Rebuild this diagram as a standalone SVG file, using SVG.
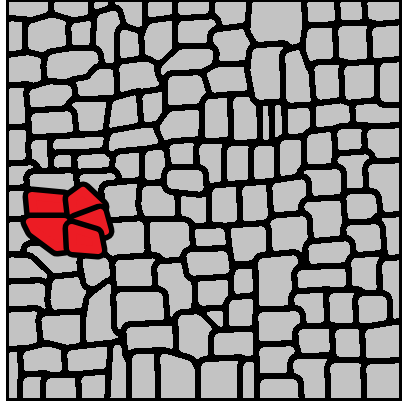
<svg xmlns="http://www.w3.org/2000/svg" width="402" height="405" viewBox="0 0 402 405">
<style>
.k{fill:#000;stroke:#000;stroke-width:19;stroke-linejoin:round}
.g{fill:#c3c3c3;stroke:#c3c3c3;stroke-width:8;stroke-linejoin:round}
.rr{fill:#ec1c24;stroke:#ec1c24;stroke-width:8;stroke-linejoin:round}
</style>
<defs>
<clipPath id="frame"><rect x="9" y="2" width="390" height="396"/></clipPath>
<filter id="smooth" x="0" y="0" width="1" height="1" color-interpolation-filters="sRGB">
<feGaussianBlur stdDeviation="1.5"/>
<feComponentTransfer>
<feFuncR type="discrete" tableValues="0 0 0 0 0 0 0 0 0 .765 .765 .765 .765 .765 .765 .765 .765 .765 .765 .765"/>
<feFuncG type="discrete" tableValues="0 0 0 0 0 0 0 0 0 .765 .765 .765 .765 .765 .765 .765 .765 .765 .765 .765"/>
<feFuncB type="discrete" tableValues="0 0 0 0 0 0 0 0 0 .765 .765 .765 .765 .765 .765 .765 .765 .765 .765 .765"/>
<feFuncA type="discrete" tableValues="0 1"/>
</feComponentTransfer>
</filter>
<filter id="smoothred" x="0" y="0" width="1" height="1" color-interpolation-filters="sRGB">
<feGaussianBlur stdDeviation="1.2"/>
<feComponentTransfer>
<feFuncA type="discrete" tableValues="0 1"/>
</feComponentTransfer>
</filter>
<polygon id="c1" points="11,3 52,3 52,14 46,18 27,21 11,19"/>
<polygon id="c2" points="58,3 93,3 93,17 72,21 58,15"/>
<polygon id="c3" points="98,3 113,3 112,9 98,13"/>
<polygon id="c4" points="118,3 147,3 147,22 137,31 122,20 117,10"/>
<polygon id="c5" points="152,3 177,3 177,17 152,20"/>
<polygon id="c6" points="182,3 212,3 212,16 186,20 182,16"/>
<polygon id="c7" points="219,3 249,3 249,27 220,29 218,18"/>
<polygon id="c8" points="11,25 25,26 27,53 11,55"/>
<polygon id="c9" points="32,27 52,21 69,26 70,48 50,51 32,53"/>
<polygon id="c10" points="75,27 94,24 96,35 94,49 76,49"/>
<polygon id="c11" points="101,18 114,14 117,25 119,30 117,66 101,66 99,50 100,34"/>
<polygon id="c12" points="124,33 137,37 143,36 145,60 124,62"/>
<polygon id="c13" points="148,36 152,27 176,24 177,46 168,58 149,60"/>
<polygon id="c14" points="182,25 212,23 212,49 186,49 182,45"/>
<polygon id="c15" points="217,36 249,32 251,64 220,66 217,52"/>
<polygon id="c16" points="11,61 28,59 45,63 46,85 30,88 11,87"/>
<polygon id="c17" points="52,58 70,55 94,55 96,68 91,79 70,80 52,84 50,66"/>
<polygon id="c18" points="74,86 91,83 99,73 118,73 118,93 111,101 76,102"/>
<polygon id="c19" points="123,68 146,65 160,73 159,92 124,93"/>
<polygon id="c20" points="172,62 182,53 210,53 207,70 198,75 166,76 164,70"/>
<polygon id="c21" points="211,75 218,71 250,70 248,96 208,98 203,79"/>
<polygon id="c22" points="11,92 27,91 29,128 11,130"/>
<polygon id="c23" points="33,93 50,88 68,89 70,110 35,113"/>
<polygon id="c24" points="75,106 110,105 112,117 108,136 74,137 71,114"/>
<polygon id="c25" points="116,104 138,98 143,128 119,132 112,133"/>
<polygon id="c26" points="146,98 161,96 167,91 168,120 148,124"/>
<polygon id="c27" points="172,80 198,79 205,102 202,110 172,110"/>
<polygon id="c28" points="11,134 28,133 33,150 31,165 11,167"/>
<polygon id="c29" points="35,117 68,115 70,137 36,140"/>
<polygon id="c30" points="35,144 52,143 54,170 36,172"/>
<polygon id="c31" points="57,143 104,140 107,153 80,156 57,155"/>
<polygon id="c32" points="58,159 76,159 77,172 58,173"/>
<polygon id="c33" points="81,159 108,157 117,161 115,172 82,173"/>
<polygon id="c34" points="114,137 142,132 158,131 158,150 125,155 112,148"/>
<polygon id="c35" points="172,115 203,113 205,140 170,143 163,128"/>
<polygon id="c36" points="120,158 142,156 145,178 122,181 118,170"/>
<polygon id="c37" points="149,155 160,153 168,160 167,180 149,180"/>
<polygon id="c38" points="173,148 200,146 203,168 176,170"/>
<polygon id="c39" points="209,103 232,101 233,142 208,143"/>
<polygon id="c40" points="237,101 262,99 262,146 238,147"/>
<polygon id="c41" points="266,101 273,100 274,147 267,147"/>
<polygon id="c42" points="278,101 286,101 287,146 279,146"/>
<polygon id="c43" points="291,103 313,102 315,139 292,141"/>
<polygon id="c44" points="319,101 353,99 354,128 320,131"/>
<polygon id="c45" points="359,105 400,102 400,128 360,129"/>
<polygon id="c46" points="203,148 227,147 228,186 204,188"/>
<polygon id="c47" points="231,150 255,149 255,185 231,186"/>
<polygon id="c48" points="258,150 280,150 281,183 258,184"/>
<polygon id="c49" points="284,144 306,143 307,176 284,178"/>
<polygon id="c50" points="311,138 337,135 338,168 311,170"/>
<polygon id="c51" points="341,133 366,132 367,154 342,156"/>
<polygon id="c52" points="371,133 400,132 400,163 372,165"/>
<polygon id="c53" points="341,160 366,158 368,192 342,194"/>
<polygon id="c54" points="372,168 400,167 400,215 374,217"/>
<polygon id="c55" points="306,174 337,173 337,200 307,201"/>
<polygon id="c57" points="256,3 300,3 305,45 265,48 254,30"/>
<polygon id="c58" points="311,3 338,3 339,25 312,28"/>
<polygon id="c59" points="344,3 366,3 367,22 345,24"/>
<polygon id="c60" points="371,3 400,3 400,25 373,27"/>
<polygon id="c61" points="256,52 283,50 286,95 259,96 254,70"/>
<polygon id="c62" points="289,56 304,52 310,66 311,98 290,99"/>
<polygon id="c63" points="311,32 337,31 338,62 315,65 309,48"/>
<polygon id="c64" points="342,30 371,29 372,64 343,66"/>
<polygon id="c65" points="376,31 400,29 400,62 377,63"/>
<polygon id="c66" points="318,69 343,68 344,93 320,96"/>
<polygon id="c67" points="348,70 376,68 380,93 349,96"/>
<polygon id="c68" points="384,67 400,66 400,98 384,98"/>
<polygon id="c70" points="11,170 31,169 33,190 11,192"/>
<polygon id="c71" points="11,195 26,194 27,221 11,223"/>
<polygon id="c72" points="33,178 72,177 78,186 74,191 35,191"/>
<polygon id="c73" points="83,178 112,177 114,189 85,189"/>
<polygon id="c74" points="108,190 140,187 142,218 110,221"/>
<polygon id="c76" points="146,190 176,188 180,214 150,222 145,205"/>
<polygon id="c77" points="184,193 210,193 212,228 186,230"/>
<polygon id="c78" points="216,192 240,190 242,215 216,225"/>
<polygon id="c79" points="246,190 270,188 272,225 247,227"/>
<polygon id="c80" points="276,187 302,183 304,215 278,218"/>
<polygon id="c81" points="308,206 340,204 346,240 310,243"/>
<polygon id="c82" points="350,198 372,198 375,222 352,224"/>
<polygon id="c83" points="380,222 400,221 400,258 382,260"/>
<polygon id="c84" points="350,229 376,228 378,255 352,257"/>
<polygon id="c85" points="276,222 303,220 305,255 268,257 266,232"/>
<polygon id="c86" points="312,248 346,245 348,268 314,270"/>
<polygon id="c87" points="229,232 262,230 263,256 230,258"/>
<polygon id="c88" points="190,233 221,232 223,251 191,253"/>
<polygon id="c89" points="146,226 185,226 187,262 148,264"/>
<polygon id="c92" points="11,226 27,225 28,256 11,258"/>
<polygon id="c93" points="30,250 55,250 83,256 82,272 45,276 30,268"/>
<polygon id="c94" points="109,227 140,225 141,254 103,257 105,240"/>
<polygon id="c95" points="11,261 28,262 44,277 40,284 11,285"/>
<polygon id="c96" points="11,288 40,287 52,296 50,311 11,313"/>
<polygon id="c97" points="56,283 86,280 92,296 88,314 58,316 54,300"/>
<polygon id="c98" points="86,262 102,260 112,270 110,282 90,282"/>
<polygon id="c99" points="11,316 36,315 42,330 40,350 11,352"/>
<polygon id="c100" points="45,320 82,318 85,340 48,346"/>
<polygon id="c101" points="93,300 110,287 118,291 116,342 90,346 90,318"/>
<polygon id="c102" points="11,356 22,355 24,400 11,400"/>
<polygon id="c103" points="27,355 48,350 66,355 67,377 28,378"/>
<polygon id="c104" points="71,354 107,350 108,375 72,378"/>
<polygon id="c105" points="27,381 45,380 46,400 27,400"/>
<polygon id="c106" points="50,382 80,381 82,400 50,400"/>
<polygon id="c107" points="85,380 110,378 111,400 86,400"/>
<polygon id="c108" points="117,348 131,356 132,400 114,400"/>
<polygon id="c109" points="119,264 155,262 157,290 121,292"/>
<polygon id="c110" points="161,268 188,266 196,282 198,313 163,315"/>
<polygon id="c111" points="120,296 159,296 161,324 121,327"/>
<polygon id="c112" points="201,305 228,304 229,328 202,330"/>
<polygon id="c113" points="228,274 252,272 254,298 230,300"/>
<polygon id="c142" points="201,276 224,275 225,301 202,302"/>
<polygon id="c114" points="233,304 256,302 258,331 233,332"/>
<polygon id="c115" points="130,331 176,329 178,351 132,354"/>
<polygon id="c116" points="182,319 197,318 212,333 213,360 183,362"/>
<polygon id="c117" points="218,337 258,335 260,362 218,362"/>
<polygon id="c118" points="136,358 160,357 162,400 136,400"/>
<polygon id="c119" points="164,357 188,364 200,387 200,400 165,400"/>
<polygon id="c121" points="205,366 240,364 243,400 205,400"/>
<polygon id="c123" points="247,366 259,364 260,400 247,400"/>
<polygon id="c124" points="262,262 294,259 297,310 263,312"/>
<polygon id="c125" points="301,274 350,272 352,290 302,293"/>
<polygon id="c126" points="355,262 380,260 381,291 356,293"/>
<polygon id="c127" points="386,265 400,264 400,320 387,322"/>
<polygon id="c128" points="298,298 328,296 330,328 299,330"/>
<polygon id="c129" points="333,297 357,296 359,328 334,329"/>
<polygon id="c130" points="362,300 383,300 383,328 363,329"/>
<polygon id="c131" points="262,316 296,315 298,346 263,348"/>
<polygon id="c132" points="302,333 333,332 335,358 304,360"/>
<polygon id="c133" points="339,333 364,333 366,363 340,364"/>
<polygon id="c134" points="369,333 400,328 400,364 370,365"/>
<polygon id="c135" points="263,351 291,350 293,378 264,380"/>
<polygon id="c136" points="297,363 330,362 331,400 298,400"/>
<polygon id="c137" points="334,367 364,367 366,400 335,400"/>
<polygon id="c138" points="370,368 400,367 400,400 371,400"/>
<polygon id="c139" points="264,383 294,383 295,400 264,400"/>
<polygon id="c140" points="190,256 224,255 226,270 193,272"/>
<polygon id="c141" points="171,174 199,174 200,188 171,185"/>
<polygon id="r1" points="32,196 64,199 65,217 34,217"/>
<polygon id="r2" points="72,199 83,191 100,207 74,216"/>
<polygon id="r3" points="76,222 100,213 105,231 99,233"/>
<polygon id="r4" points="30,222 64,222 65,246 57,247 34,230"/>
<polygon id="r5" points="72,228 95,235 98,250 73,248"/>
</defs>
<rect x="0" y="0" width="402" height="405" fill="#fff"/>
<rect x="6" y="0" width="396" height="401" fill="#000"/>
<g clip-path="url(#frame)">
<g id="cells" filter="url(#smooth)">
<rect x="0" y="0" width="402" height="405" fill="#000"/>
<use href="#c1" class="k"/><use href="#c1" class="g"/>
<use href="#c2" class="k"/><use href="#c2" class="g"/>
<use href="#c3" class="k"/><use href="#c3" class="g"/>
<use href="#c4" class="k"/><use href="#c4" class="g"/>
<use href="#c5" class="k"/><use href="#c5" class="g"/>
<use href="#c6" class="k"/><use href="#c6" class="g"/>
<use href="#c7" class="k"/><use href="#c7" class="g"/>
<use href="#c8" class="k"/><use href="#c8" class="g"/>
<use href="#c9" class="k"/><use href="#c9" class="g"/>
<use href="#c10" class="k"/><use href="#c10" class="g"/>
<use href="#c11" class="k"/><use href="#c11" class="g"/>
<use href="#c12" class="k"/><use href="#c12" class="g"/>
<use href="#c13" class="k"/><use href="#c13" class="g"/>
<use href="#c14" class="k"/><use href="#c14" class="g"/>
<use href="#c15" class="k"/><use href="#c15" class="g"/>
<use href="#c16" class="k"/><use href="#c16" class="g"/>
<use href="#c17" class="k"/><use href="#c17" class="g"/>
<use href="#c18" class="k"/><use href="#c18" class="g"/>
<use href="#c19" class="k"/><use href="#c19" class="g"/>
<use href="#c20" class="k"/><use href="#c20" class="g"/>
<use href="#c21" class="k"/><use href="#c21" class="g"/>
<use href="#c22" class="k"/><use href="#c22" class="g"/>
<use href="#c23" class="k"/><use href="#c23" class="g"/>
<use href="#c24" class="k"/><use href="#c24" class="g"/>
<use href="#c25" class="k"/><use href="#c25" class="g"/>
<use href="#c26" class="k"/><use href="#c26" class="g"/>
<use href="#c27" class="k"/><use href="#c27" class="g"/>
<use href="#c28" class="k"/><use href="#c28" class="g"/>
<use href="#c29" class="k"/><use href="#c29" class="g"/>
<use href="#c30" class="k"/><use href="#c30" class="g"/>
<use href="#c31" class="k"/><use href="#c31" class="g"/>
<use href="#c32" class="k"/><use href="#c32" class="g"/>
<use href="#c33" class="k"/><use href="#c33" class="g"/>
<use href="#c34" class="k"/><use href="#c34" class="g"/>
<use href="#c35" class="k"/><use href="#c35" class="g"/>
<use href="#c36" class="k"/><use href="#c36" class="g"/>
<use href="#c37" class="k"/><use href="#c37" class="g"/>
<use href="#c38" class="k"/><use href="#c38" class="g"/>
<use href="#c39" class="k"/><use href="#c39" class="g"/>
<use href="#c40" class="k"/><use href="#c40" class="g"/>
<use href="#c41" class="k"/><use href="#c41" class="g"/>
<use href="#c42" class="k"/><use href="#c42" class="g"/>
<use href="#c43" class="k"/><use href="#c43" class="g"/>
<use href="#c44" class="k"/><use href="#c44" class="g"/>
<use href="#c45" class="k"/><use href="#c45" class="g"/>
<use href="#c46" class="k"/><use href="#c46" class="g"/>
<use href="#c47" class="k"/><use href="#c47" class="g"/>
<use href="#c48" class="k"/><use href="#c48" class="g"/>
<use href="#c49" class="k"/><use href="#c49" class="g"/>
<use href="#c50" class="k"/><use href="#c50" class="g"/>
<use href="#c51" class="k"/><use href="#c51" class="g"/>
<use href="#c52" class="k"/><use href="#c52" class="g"/>
<use href="#c53" class="k"/><use href="#c53" class="g"/>
<use href="#c54" class="k"/><use href="#c54" class="g"/>
<use href="#c55" class="k"/><use href="#c55" class="g"/>
<use href="#c57" class="k"/><use href="#c57" class="g"/>
<use href="#c58" class="k"/><use href="#c58" class="g"/>
<use href="#c59" class="k"/><use href="#c59" class="g"/>
<use href="#c60" class="k"/><use href="#c60" class="g"/>
<use href="#c61" class="k"/><use href="#c61" class="g"/>
<use href="#c62" class="k"/><use href="#c62" class="g"/>
<use href="#c63" class="k"/><use href="#c63" class="g"/>
<use href="#c64" class="k"/><use href="#c64" class="g"/>
<use href="#c65" class="k"/><use href="#c65" class="g"/>
<use href="#c66" class="k"/><use href="#c66" class="g"/>
<use href="#c67" class="k"/><use href="#c67" class="g"/>
<use href="#c68" class="k"/><use href="#c68" class="g"/>
<use href="#c70" class="k"/><use href="#c70" class="g"/>
<use href="#c71" class="k"/><use href="#c71" class="g"/>
<use href="#c72" class="k"/><use href="#c72" class="g"/>
<use href="#c73" class="k"/><use href="#c73" class="g"/>
<use href="#c74" class="k"/><use href="#c74" class="g"/>
<use href="#c76" class="k"/><use href="#c76" class="g"/>
<use href="#c77" class="k"/><use href="#c77" class="g"/>
<use href="#c78" class="k"/><use href="#c78" class="g"/>
<use href="#c79" class="k"/><use href="#c79" class="g"/>
<use href="#c80" class="k"/><use href="#c80" class="g"/>
<use href="#c81" class="k"/><use href="#c81" class="g"/>
<use href="#c82" class="k"/><use href="#c82" class="g"/>
<use href="#c83" class="k"/><use href="#c83" class="g"/>
<use href="#c84" class="k"/><use href="#c84" class="g"/>
<use href="#c85" class="k"/><use href="#c85" class="g"/>
<use href="#c86" class="k"/><use href="#c86" class="g"/>
<use href="#c87" class="k"/><use href="#c87" class="g"/>
<use href="#c88" class="k"/><use href="#c88" class="g"/>
<use href="#c89" class="k"/><use href="#c89" class="g"/>
<use href="#c92" class="k"/><use href="#c92" class="g"/>
<use href="#c93" class="k"/><use href="#c93" class="g"/>
<use href="#c94" class="k"/><use href="#c94" class="g"/>
<use href="#c95" class="k"/><use href="#c95" class="g"/>
<use href="#c96" class="k"/><use href="#c96" class="g"/>
<use href="#c97" class="k"/><use href="#c97" class="g"/>
<use href="#c98" class="k"/><use href="#c98" class="g"/>
<use href="#c99" class="k"/><use href="#c99" class="g"/>
<use href="#c100" class="k"/><use href="#c100" class="g"/>
<use href="#c101" class="k"/><use href="#c101" class="g"/>
<use href="#c102" class="k"/><use href="#c102" class="g"/>
<use href="#c103" class="k"/><use href="#c103" class="g"/>
<use href="#c104" class="k"/><use href="#c104" class="g"/>
<use href="#c105" class="k"/><use href="#c105" class="g"/>
<use href="#c106" class="k"/><use href="#c106" class="g"/>
<use href="#c107" class="k"/><use href="#c107" class="g"/>
<use href="#c108" class="k"/><use href="#c108" class="g"/>
<use href="#c109" class="k"/><use href="#c109" class="g"/>
<use href="#c110" class="k"/><use href="#c110" class="g"/>
<use href="#c111" class="k"/><use href="#c111" class="g"/>
<use href="#c112" class="k"/><use href="#c112" class="g"/>
<use href="#c113" class="k"/><use href="#c113" class="g"/>
<use href="#c142" class="k"/><use href="#c142" class="g"/>
<use href="#c114" class="k"/><use href="#c114" class="g"/>
<use href="#c115" class="k"/><use href="#c115" class="g"/>
<use href="#c116" class="k"/><use href="#c116" class="g"/>
<use href="#c117" class="k"/><use href="#c117" class="g"/>
<use href="#c118" class="k"/><use href="#c118" class="g"/>
<use href="#c119" class="k"/><use href="#c119" class="g"/>
<use href="#c121" class="k"/><use href="#c121" class="g"/>
<use href="#c123" class="k"/><use href="#c123" class="g"/>
<use href="#c124" class="k"/><use href="#c124" class="g"/>
<use href="#c125" class="k"/><use href="#c125" class="g"/>
<use href="#c126" class="k"/><use href="#c126" class="g"/>
<use href="#c127" class="k"/><use href="#c127" class="g"/>
<use href="#c128" class="k"/><use href="#c128" class="g"/>
<use href="#c129" class="k"/><use href="#c129" class="g"/>
<use href="#c130" class="k"/><use href="#c130" class="g"/>
<use href="#c131" class="k"/><use href="#c131" class="g"/>
<use href="#c132" class="k"/><use href="#c132" class="g"/>
<use href="#c133" class="k"/><use href="#c133" class="g"/>
<use href="#c134" class="k"/><use href="#c134" class="g"/>
<use href="#c135" class="k"/><use href="#c135" class="g"/>
<use href="#c136" class="k"/><use href="#c136" class="g"/>
<use href="#c137" class="k"/><use href="#c137" class="g"/>
<use href="#c138" class="k"/><use href="#c138" class="g"/>
<use href="#c139" class="k"/><use href="#c139" class="g"/>
<use href="#c140" class="k"/><use href="#c140" class="g"/>
<use href="#c141" class="k"/><use href="#c141" class="g"/>
</g>
<g id="red-cells">
<use href="#r1" class="k"/><use href="#r1" class="rr"/>
<use href="#r2" class="k"/><use href="#r2" class="rr"/>
<use href="#r3" class="k"/><use href="#r3" class="rr"/>
<use href="#r4" class="k"/><use href="#r4" class="rr"/>
<use href="#r5" class="k"/><use href="#r5" class="rr"/>
</g>
</g>
</svg>
